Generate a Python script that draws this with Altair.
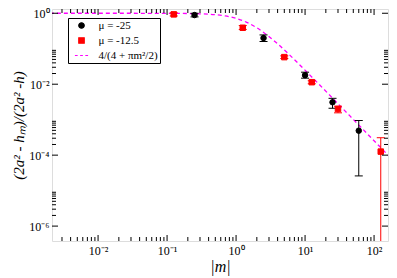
import altair as alt
import pandas as pd

# ---------------- data ----------------
SERIES = ["μ = -25", "μ = -12.5", "4/(4 + πm²/2)"]
COLORS = ["#000000", "#ff0000", "#ff00ff"]
SHAPES = ["circle", "square", "M-2.4,0H-1.4M-0.5,0H0.5M1.4,0H2.4"]

m_black = [0.25, 2.5, 10, 25, 60]
y_black = [0.89, 0.20, 0.018, 0.0031, 0.00049]
lo_black = [0.79, 0.16, 0.0148, 0.0021, 0.000026]
hi_black = [1.0, 0.245, 0.0218, 0.0040, 0.00095]

m_red = [0.125, 1.25, 5, 12.5, 30, 125]
y_red = [0.93, 0.39, 0.058, 0.0114, 0.0020, 0.000126]
lo_red = [0.84, 0.35, 0.053, 0.0103, 0.00156, 1e-9]
hi_red = [1.03, 0.45, 0.063, 0.0125, 0.0024, 0.00031]

m_fit = [0.002, 0.01, 0.1, 0.2, 0.3, 0.5, 0.7, 1.0, 1.4, 2.0, 2.8, 4.0, 5.6,
         8.0, 11, 16, 22, 32, 45, 64, 90, 128, 180]
y_fit = [1.0, 0.99996, 0.99609, 0.98454, 0.96586, 0.91060, 0.83863, 0.71803,
         0.56507, 0.38898, 0.24517, 0.13730, 0.075103, 0.038266, 0.020611,
         0.0098492, 0.0052338, 0.0024806, 0.0012560, 0.00062131, 0.00031428,
         0.00015540, 0.000078589]

x_major = [0.01, 0.1, 1, 10, 100]
x_exps = [-2, -1, 0, 1, 2]
y_major = [1e-6, 1e-4, 1e-2, 1]
y_exps = [-6, -4, -2, 0]

X_DOM = [0.002149, 159.2]
Y_DOM = [10 ** -6.42, 10 ** 0.12]

x_minor = [k * 10.0 ** e for e in range(-3, 3) for k in range(2, 10)]
x_minor = [v for v in x_minor if X_DOM[0] <= v <= X_DOM[1]]
y_minor = [k * 10.0 ** e for e in (-6, -4, -2) for k in range(2, 10)]

# ---------------- helpers ----------------
SUP = {"-": "⁻", "0": "⁰", "1": "¹", "2": "²", "3": "³", "4": "⁴",
       "5": "⁵", "6": "⁶", "7": "⁷", "8": "⁸", "9": "⁹"}


def label_expr(exps):
    e = "round(log(datum.value)/LN10)"
    s = "''"
    for x in exps:
        txt = "10" + "".join(SUP[c] for c in str(x))
        s = f"({e} == {x} ? '{txt}' : {s})"
    return s


FONT = "Liberation Serif"
W, H = 336, 232

xs = alt.Scale(type="log", domain=X_DOM, nice=False)
ys = alt.Scale(type="log", domain=Y_DOM, nice=False)
cs = alt.Scale(domain=SERIES, range=COLORS)
ss = alt.Scale(domain=SERIES, range=SHAPES)

leg = alt.Legend(title=None, orient="none", legendX=16, legendY=9,
                 direction="vertical", padding=2, symbolOffset=6,
                 labelOffset=11.5, rowPadding=3, symbolSize=30,
                 symbolStrokeWidth=1.2, strokeColor="black", fillColor="white",
                 labelFont=FONT, labelFontSize=11, labelColor="black",
                 labelLimit=200, cornerRadius=0)

x_axis = alt.Axis(values=x_major, labelExpr=label_expr(x_exps), ticks=False,
                  domain=False, grid=False, labelFont=FONT, labelFontSize=12,
                  labelColor="black", labelPadding=4, labelFlush=False,
                  title="|m|", titleFont=FONT, titleFontSize=16,
                  titleFontStyle="italic", titleFontWeight="normal",
                  titleColor="black", titlePadding=2)
y_axis = alt.Axis(values=y_major, labelExpr=label_expr(y_exps), ticks=False,
                  domain=False, grid=False, labelFont=FONT, labelFontSize=12,
                  labelColor="black", labelPadding=3, labelFlush=False,
                  title="(2a² - hₘ)/(2a² -h)", titleFont=FONT, titleFontSize=15,
                  titleFontStyle="italic", titleFontWeight="normal",
                  titleColor="black", titlePadding=2)

pts = pd.DataFrame({
    "m": m_black + m_red,
    "y": y_black + y_red,
    "series": [SERIES[0]] * len(m_black) + [SERIES[1]] * len(m_red),
})
errs = pd.DataFrame({
    "m": m_black + m_red,
    "lo": lo_black + lo_red,
    "hi": hi_black + hi_red,
    "col": [COLORS[0]] * len(m_black) + [COLORS[1]] * len(m_red),
})
caps = pd.DataFrame({
    "m": list(errs["m"]) * 2,
    "v": list(errs["lo"]) + list(errs["hi"]),
    "col": list(errs["col"]) * 2,
})
fit = pd.DataFrame({"m": m_fit, "y": y_fit, "series": [SERIES[2]] * len(m_fit)})


def X(f):
    return alt.X(f, scale=xs, axis=x_axis)


def Y(f):
    return alt.Y(f, scale=ys, axis=y_axis)


line = alt.Chart(fit).mark_line(strokeDash=[4, 3], strokeWidth=1.3, clip=True,
                                interpolate="monotone").encode(
    x=X("m:Q"), y=Y("y:Q"),
    stroke=alt.Stroke("series:N", scale=cs, legend=leg),
)

bars = alt.Chart(errs).mark_rule(strokeWidth=1, clip=True).encode(
    x=X("m:Q"), y=Y("lo:Q"), y2="hi:Q",
    stroke=alt.Stroke("col:N", scale=None),
)

capm = alt.Chart(caps).mark_tick(orient="horizontal", size=8, thickness=1,
                                 opacity=1, clip=True).encode(
    x=X("m:Q"), y=Y("v:Q"),
    color=alt.Color("col:N", scale=None),
)

points = alt.Chart(pts).mark_point(filled=True, size=30, opacity=1,
                                   strokeWidth=1).encode(
    x=X("m:Q"), y=Y("y:Q"),
    fill=alt.Fill("series:N", scale=cs, legend=leg),
    stroke=alt.Stroke("series:N", scale=cs, legend=leg),
    shape=alt.Shape("series:N", scale=ss, legend=leg),
)


def xticks(vals, y0, y1):
    return alt.Chart(pd.DataFrame({"v": vals})).mark_rule(
        color="black", strokeWidth=1).encode(
        x=X("v:Q"), y=alt.value(y0), y2=alt.value(y1))


def yticks(vals, x0, x1):
    return alt.Chart(pd.DataFrame({"v": vals})).mark_rule(
        color="black", strokeWidth=1).encode(
        y=Y("v:Q"), x=alt.value(x0), x2=alt.value(x1))


tick_layers = [
    xticks(x_major, H, H - 6), xticks(x_minor, H, H - 4),
    xticks(x_major, 0, 6), xticks(x_minor, 0, 4),
    yticks(y_major, 0, 6), yticks(y_minor, 0, 4),
    yticks(y_major, W, W - 6), yticks(y_minor, W, W - 4),
]

chart = alt.layer(line, bars, capm, points, *tick_layers).properties(
    width=W, height=H,
    autosize=alt.AutoSizeParams(type="none"),
    padding={"left": 44, "top": 1, "right": 1, "bottom": 36},
).configure_view(stroke="black", strokeWidth=1).configure(background="white")

chart.save("out.html", embed_options={"renderer": "svg", "actions": False})
